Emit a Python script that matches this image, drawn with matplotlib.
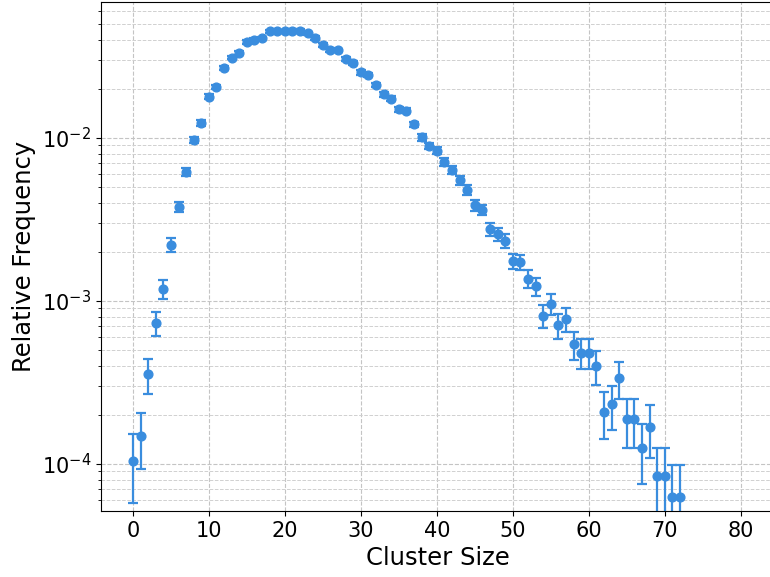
import matplotlib
matplotlib.use('Agg')
import matplotlib.pyplot as plt

# cluster sizes and relative frequencies
cluster_size = list(range(0, 73))
rel_freq = [1.05e-4, 1.49e-4, 3.55e-4, 7.3e-4, 1.19e-3, 2.21e-3, 3.79e-3, 6.17e-3, 9.72e-3, 0.0123,
            0.0179, 0.0206, 0.0268, 0.0311, 0.0331, 0.0387, 0.0399, 0.0409, 0.0451, 0.0451,
            0.0451, 0.0455, 0.0453, 0.0438, 0.0410, 0.0371, 0.0347, 0.0344, 0.0304, 0.0287,
            0.0252, 0.0244, 0.0211, 0.0185, 0.0174, 0.0150, 0.0147, 0.0121, 0.0101, 0.00893,
            0.00835, 0.00716, 0.00637, 0.00552, 0.00480, 0.00386, 0.00363, 0.00275, 0.00258, 0.00234,
            0.00176, 0.00173, 0.00137, 0.00123, 0.000812, 0.000959, 0.000710, 0.000773, 0.000542, 0.000482,
            0.000482, 0.000399, 0.000209, 0.000232, 0.000336, 0.000189, 0.000189, 0.000126, 0.000169, 8.4e-5,
            8.4e-5, 6.3e-5, 6.3e-5]
# error bar half-lengths
rel_err = [4.7e-5, 5.6e-5, 8.6e-5, 1.24e-4, 1.58e-4, 2.15e-4, 2.8e-4, 3.6e-4, 4.5e-4, 5.1e-4,
           6.1e-4, 6.6e-4, 7.5e-4, 8.1e-4, 8.3e-4, 9.0e-4, 9.2e-4, 9.3e-4, 9.7e-4, 9.7e-4,
           9.7e-4, 9.8e-4, 9.7e-4, 9.6e-4, 9.3e-4, 8.8e-4, 8.5e-4, 8.5e-4, 8.0e-4, 7.8e-4,
           7.3e-4, 7.2e-4, 6.7e-4, 6.2e-4, 6.0e-4, 5.6e-4, 5.6e-4, 5.0e-4, 4.6e-4, 4.3e-4,
           4.2e-4, 3.9e-4, 3.7e-4, 3.4e-4, 3.2e-4, 2.85e-4, 2.76e-4, 2.4e-4, 2.33e-4, 2.2e-4,
           1.92e-4, 1.9e-4, 1.7e-4, 1.6e-4, 1.3e-4, 1.42e-4, 1.22e-4, 1.27e-4, 1.07e-4, 1.0e-4,
           1.0e-4, 9.2e-5, 6.6e-5, 7.0e-5, 8.4e-5, 6.3e-5, 6.3e-5, 5.1e-5, 6.0e-5, 4.2e-5,
           4.2e-5, 3.6e-5, 3.6e-5]

fig = plt.figure(figsize=(7.7, 5.77), dpi=100)
ax = fig.add_axes([101 / 770, 66 / 577, 674 / 770, 509 / 577])

ax.errorbar(cluster_size, rel_freq, yerr=rel_err, fmt='o', color='#3a8dde',
            ms=6.3, elinewidth=1.6, capsize=3.5, capthick=1.6)

ax.set_yscale('log')
ax.set_xlim(-4.2, 84.5)
ax.set_ylim(5.15e-5, 0.0682)
ax.set_xticks([0, 10, 20, 30, 40, 50, 60, 70, 80])

ax.grid(True, which='major', linestyle='--', color='#c4c4c4', linewidth=0.8)
ax.grid(True, which='minor', axis='y', linestyle='--', color='#d0d0d0', linewidth=0.7)
ax.set_axisbelow(True)

ax.tick_params(axis='both', which='major', labelsize=15)
ax.set_xlabel('Cluster Size', fontsize=17.5)
ax.set_ylabel('Relative Frequency', fontsize=17.5)

fig.savefig('out.png', dpi=100)
